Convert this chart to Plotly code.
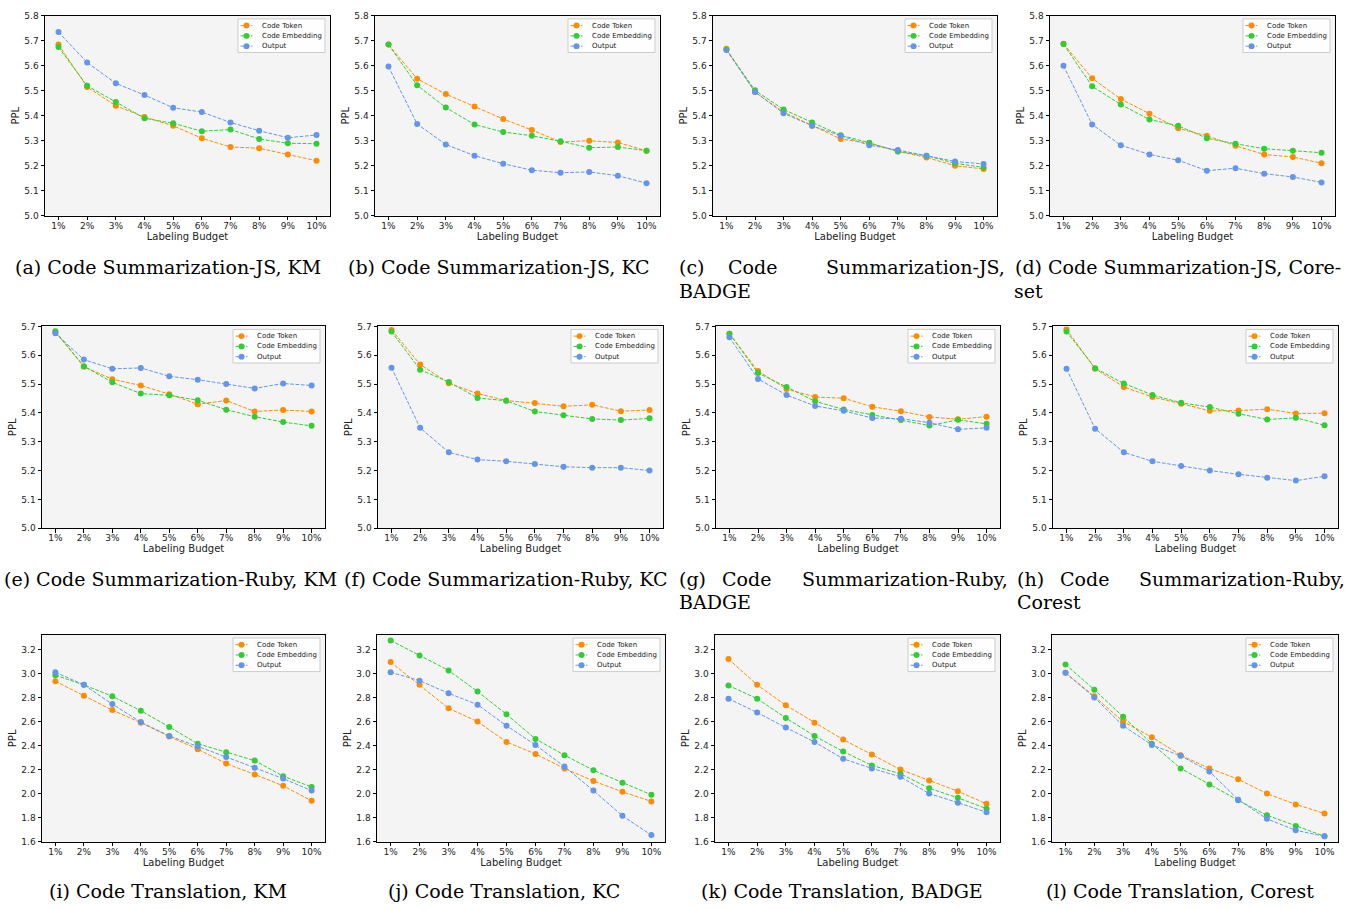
import plotly.graph_objects as go

# ---------------- data ----------------
budgets = ["1%", "2%", "3%", "4%", "5%", "6%", "7%", "8%", "9%", "10%"]
series_names = ["Code Token", "Code Embedding", "Output"]

# (a) Code Summarization-JS, KM
a_token = [5.685, 5.515, 5.440, 5.395, 5.360, 5.310, 5.275, 5.270, 5.245, 5.220]
a_emb   = [5.675, 5.520, 5.455, 5.390, 5.370, 5.338, 5.345, 5.307, 5.290, 5.288]
a_out   = [5.735, 5.613, 5.530, 5.483, 5.432, 5.415, 5.373, 5.340, 5.312, 5.323]
# (b) Code Summarization-JS, KC
b_token = [5.685, 5.548, 5.487, 5.437, 5.387, 5.343, 5.295, 5.300, 5.293, 5.260]
b_emb   = [5.685, 5.522, 5.433, 5.365, 5.335, 5.320, 5.298, 5.272, 5.275, 5.260]
b_out   = [5.597, 5.367, 5.285, 5.240, 5.208, 5.182, 5.172, 5.175, 5.160, 5.130]
# (c) Code Summarization-JS, BADGE
c_token = [5.668, 5.495, 5.415, 5.360, 5.307, 5.290, 5.258, 5.233, 5.200, 5.187]
c_emb   = [5.665, 5.502, 5.425, 5.373, 5.322, 5.292, 5.257, 5.240, 5.210, 5.193]
c_out   = [5.663, 5.495, 5.410, 5.360, 5.320, 5.282, 5.263, 5.240, 5.217, 5.207]
# (d) Code Summarization-JS, Coreset
d_token = [5.688, 5.550, 5.467, 5.408, 5.350, 5.320, 5.280, 5.245, 5.235, 5.210]
d_emb   = [5.687, 5.518, 5.445, 5.385, 5.360, 5.310, 5.288, 5.268, 5.260, 5.252]
d_out   = [5.600, 5.365, 5.282, 5.245, 5.222, 5.180, 5.190, 5.168, 5.155, 5.133]
# (e) Code Summarization-Ruby, KM
e_token = [5.680, 5.560, 5.517, 5.495, 5.465, 5.430, 5.443, 5.405, 5.410, 5.405]
e_emb   = [5.683, 5.562, 5.506, 5.467, 5.461, 5.444, 5.411, 5.387, 5.368, 5.355]
e_out   = [5.676, 5.585, 5.553, 5.556, 5.527, 5.515, 5.500, 5.485, 5.502, 5.495]
# (f) Code Summarization-Ruby, KC
f_token = [5.688, 5.568, 5.503, 5.467, 5.443, 5.434, 5.423, 5.428, 5.406, 5.410]
f_emb   = [5.682, 5.550, 5.507, 5.452, 5.442, 5.405, 5.392, 5.379, 5.375, 5.381]
f_out   = [5.557, 5.348, 5.263, 5.238, 5.232, 5.223, 5.213, 5.210, 5.210, 5.200]
# (g) Code Summarization-Ruby, BADGE
g_token = [5.675, 5.545, 5.483, 5.455, 5.451, 5.421, 5.406, 5.386, 5.378, 5.387]
g_emb   = [5.675, 5.538, 5.490, 5.440, 5.412, 5.393, 5.375, 5.356, 5.376, 5.362]
g_out   = [5.662, 5.518, 5.462, 5.424, 5.407, 5.382, 5.380, 5.366, 5.343, 5.348]
# (h) Code Summarization-Ruby, Corest
h_token = [5.690, 5.553, 5.490, 5.455, 5.432, 5.407, 5.408, 5.413, 5.398, 5.399]
h_emb   = [5.682, 5.555, 5.502, 5.462, 5.435, 5.420, 5.397, 5.377, 5.383, 5.357]
h_out   = [5.553, 5.345, 5.263, 5.232, 5.216, 5.200, 5.187, 5.175, 5.165, 5.180]
# (i) Code Translation, KM
i_token = [2.935, 2.815, 2.695, 2.590, 2.475, 2.370, 2.250, 2.160, 2.065, 1.940]
i_emb   = [2.985, 2.905, 2.810, 2.690, 2.555, 2.415, 2.345, 2.275, 2.145, 2.055]
i_out   = [3.010, 2.905, 2.745, 2.595, 2.480, 2.395, 2.305, 2.215, 2.125, 2.025]
# (j) Code Translation, KC
j_token = [3.095, 2.905, 2.710, 2.600, 2.430, 2.330, 2.210, 2.105, 2.015, 1.935]
j_emb   = [3.275, 3.150, 3.025, 2.850, 2.660, 2.455, 2.320, 2.195, 2.090, 1.990]
j_out   = [3.010, 2.940, 2.835, 2.740, 2.565, 2.405, 2.225, 2.025, 1.815, 1.655]
# (k) Code Translation, BADGE
k_token = [3.120, 2.905, 2.735, 2.590, 2.450, 2.325, 2.200, 2.110, 2.020, 1.915]
k_emb   = [2.900, 2.790, 2.630, 2.480, 2.350, 2.235, 2.165, 2.045, 1.965, 1.875]
k_out   = [2.790, 2.675, 2.550, 2.430, 2.290, 2.210, 2.140, 2.000, 1.925, 1.845]
# (l) Code Translation, Corest
l_token = [3.005, 2.810, 2.600, 2.470, 2.320, 2.210, 2.120, 2.000, 1.910, 1.835]
l_emb   = [3.075, 2.865, 2.640, 2.415, 2.210, 2.075, 1.945, 1.820, 1.730, 1.645]
l_out   = [3.005, 2.800, 2.565, 2.405, 2.315, 2.185, 1.950, 1.790, 1.695, 1.645]

row_yticks = [
    [5.0, 5.1, 5.2, 5.3, 5.4, 5.5, 5.6, 5.7, 5.8],
    [5.0, 5.1, 5.2, 5.3, 5.4, 5.5, 5.6, 5.7],
    [1.6, 1.8, 2.0, 2.2, 2.4, 2.6, 2.8, 3.0, 3.2],
]

panels = [
    (a_token, a_emb, a_out), (b_token, b_emb, b_out),
    (c_token, c_emb, c_out), (d_token, d_emb, d_out),
    (e_token, e_emb, e_out), (f_token, f_emb, f_out),
    (g_token, g_emb, g_out), (h_token, h_emb, h_out),
    (i_token, i_emb, i_out), (j_token, j_emb, j_out),
    (k_token, k_emb, k_out), (l_token, l_emb, l_out),
]

# ---------------- styling / layout ----------------
W, H = 1358, 909
colors = ["#FF8C00", "#32CD32", "#6495ED"]
FONT = "DejaVu Sans"
SERIF = "DejaVu Serif"
DASH = "3.7px,1.6px"

row_bounds = [(11, 213), (325, 529), (637, 846)]
row_ranges = [(5.0, 5.8), (5.0, 5.7), (1.6, 3.32)]
col_bounds = [
    [(45, 330), (375, 660), (713, 997), (1050, 1335)],
    [(42, 325), (378, 663), (716, 1000), (1053, 1338)],
    [(42, 325), (377, 665), (715, 1000), (1052, 1338)],
]


def px(x):
    return x / W


def py(y):
    return 1 - y / H


fig = go.Figure()
layout = dict(
    width=W, height=H,
    margin=dict(l=0, r=0, t=0, b=0),
    paper_bgcolor="white",
    plot_bgcolor="#F4F4F4",
    font=dict(family=FONT, size=9, color="#222"),
    showlegend=False,
)
shapes = []
annotations = []

xvals = list(range(len(budgets)))
for p, series in enumerate(panels):
    r, c = divmod(p, 4)
    idx = p + 1
    xa = "x" if idx == 1 else f"x{idx}"
    ya = "y" if idx == 1 else f"y{idx}"
    for s, vals in enumerate(series):
        fig.add_trace(go.Scatter(
            x=xvals, y=vals, name=series_names[s], mode="lines+markers",
            line=dict(color=colors[s], width=1, dash=DASH),
            marker=dict(color=colors[s], size=6),
            xaxis=xa, yaxis=ya,
        ))
    l, rr = col_bounds[r][c]
    t, b = row_bounds[r]
    axis_common = dict(
        showline=True, linecolor="black", linewidth=1, mirror=True,
        ticks="outside", ticklen=3.5, tickcolor="black", tickwidth=1,
        showgrid=False, zeroline=False,
        tickfont=dict(family=FONT, size=9, color="#222"),
    )
    layout["xaxis" if idx == 1 else f"xaxis{idx}"] = dict(
        axis_common, domain=[px(l), px(rr)], anchor=ya,
        range=[-0.47, 9.47], tickmode="array", tickvals=xvals, ticktext=budgets,
        ticklabelstandoff=-2,
        title=dict(text="Labeling Budget", font=dict(family=FONT, size=10, color="#222"), standoff=0),
    )
    layout["yaxis" if idx == 1 else f"yaxis{idx}"] = dict(
        axis_common, domain=[py(b), py(t)], anchor=xa,
        range=list(row_ranges[r]), tickmode="array", tickvals=row_yticks[r],
        ticktext=[f"{v:.1f}" for v in row_yticks[r]],
        title=dict(text="PPL", font=dict(family=FONT, size=10, color="#222"), standoff=2),
    )

    # legend box (drawn like matplotlib's legend, top-right inside the axes)
    bx0, bx1 = rr - 92, rr - 5
    by0, by1 = t + 3, t + 37
    shapes.append(dict(
        type="rect", xref="paper", yref="paper",
        x0=px(bx0), x1=px(bx1), y0=py(by1), y1=py(by0),
        fillcolor="rgba(255,255,255,0.85)", line=dict(color="#CCCCCC", width=1),
        layer="above",
    ))
    for s in range(3):
        ey = by0 + 6.8 + s * 10.4
        shapes.append(dict(
            type="line", xref="paper", yref="paper",
            x0=px(bx0 + 2.5), x1=px(bx0 + 14.5), y0=py(ey), y1=py(ey),
            line=dict(color=colors[s], width=1, dash=DASH), layer="above",
        ))
        shapes.append(dict(
            type="circle", xref="paper", yref="paper",
            x0=px(bx0 + 5.5), x1=px(bx0 + 11.5), y0=py(ey + 3), y1=py(ey - 3),
            fillcolor=colors[s], line=dict(color=colors[s], width=0), layer="above",
        ))
        annotations.append(dict(
            text=series_names[s], x=px(bx0 + 22), y=py(ey), xref="paper", yref="paper",
            xanchor="left", yanchor="middle", showarrow=False,
            font=dict(family=FONT, size=7, color="#222"),
        ))

# ---------------- captions ----------------
cap_size = 19
captions = [
    ("(a) Code Summarization-JS, KM", 168, 265, "center"),
    ("(b) Code Summarization-JS, KC", 499, 265, "center"),
    ("(c)", 677, 265, "left"), ("Code", 752, 265, "center"),
    ("Summarization-JS,", 1007, 265, "right"), ("BADGE", 677, 289, "left"),
    ("(d) Code Summarization-JS, Core-", 1178, 265, "center"), ("set", 1012, 289, "left"),
    ("(e) Code Summarization-Ruby, KM", 170, 580, "center"),
    ("(f) Code Summarization-Ruby, KC", 505, 580, "center"),
    ("(g)", 677, 580, "left"), ("Code", 746, 580, "center"),
    ("Summarization-Ruby,", 1010, 580, "right"), ("BADGE", 677, 604, "left"),
    ("(h)", 1015, 580, "left"), ("Code", 1084, 580, "center"),
    ("Summarization-Ruby,", 1347, 580, "right"), ("Corest", 1015, 604, "left"),
    ("(i) Code Translation, KM", 168, 896, "center"),
    ("(j) Code Translation, KC", 504, 896, "center"),
    ("(k) Code Translation, BADGE", 842, 896, "center"),
    ("(l) Code Translation, Corest", 1180, 896, "center"),
]
for text, xp, yp, anc in captions:
    annotations.append(dict(
        text=text, x=px(xp), y=py(yp), xref="paper", yref="paper",
        xanchor=anc, yanchor="middle", showarrow=False,
        font=dict(family=SERIF, size=cap_size, color="black"),
    ))

layout["shapes"] = shapes
layout["annotations"] = annotations
fig.update_layout(**layout)

fig.write_html(
    "out.html",
    config={"displayModeBar": False},
    post_script="document.body.style.margin='0px';",
)
